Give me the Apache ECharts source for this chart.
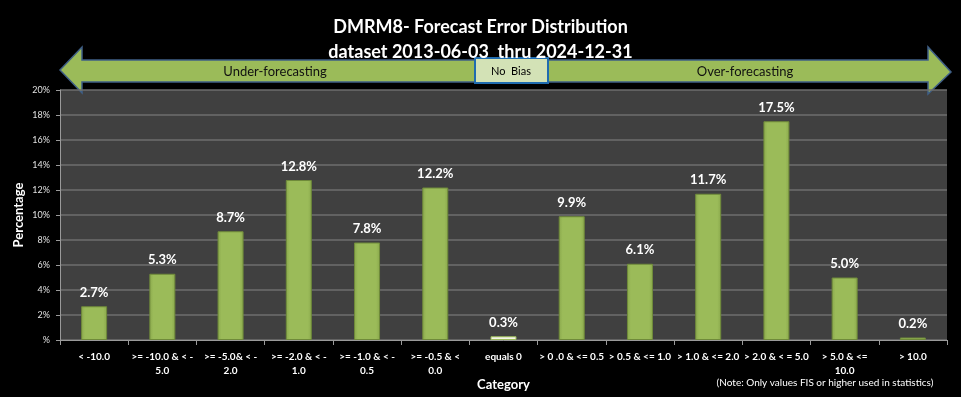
<!DOCTYPE html>
<html>
<head>
<meta charset="utf-8">
<script src="https://cdn.jsdelivr.net/npm/echarts@6/dist/echarts.min.js"></script>
<style>
  html, body { margin: 0; padding: 0; background: #000; }
</style>
</head>
<body>
<div id="myChart" style="width: 961px; height: 397px;"></div>
<script>
// categories and values (percent)
var categories = [
  "< -10.0", ">= -10.0 & < -\n5.0", ">= -5.0& < -\n2.0", ">= -2.0 & < -\n1.0",
  ">= -1.0 & < -\n0.5", ">= -0.5 & <\n0.0", "equals 0", "> 0 .0 & <= 0.5",
  "> 0.5 & <= 1.0", "> 1.0 & <= 2.0", "> 2.0 & < = 5.0", "> 5.0 & <=\n10.0", "> 10.0"
];
var percentages = [2.7, 5.3, 8.7, 12.8, 7.8, 12.2, 0.3, 9.9, 6.1, 11.7, 17.5, 5.0, 0.2];
var zeroIndex = 6;

var font = "Lato, 'Open Sans', sans-serif";

var myChart = echarts.init(document.getElementById("myChart"));

var barData = percentages.map(function (v, i) {
  if (i === zeroIndex) {
    return { value: v, itemStyle: { color: "#f4f4e8", borderColor: "#9bbb59" } };
  }
  return v;
});

myChart.setOption({
  backgroundColor: "#000",
  animation: false,
  title: {
    text: "DMRM8- Forecast Error Distribution\ndataset 2013-06-03  thru 2024-12-31",
    left: "center",
    top: 10,
    textStyle: { color: "#fff", fontSize: 18, fontWeight: "bold", fontFamily: font, lineHeight: 25 }
  },
  grid: {
    left: 60, right: 14, top: 90, bottom: 57,
    outerBoundsMode: "none",
    show: true, backgroundColor: "#404040", borderWidth: 0
  },
  xAxis: {
    type: "category",
    data: categories,
    name: "Category",
    nameLocation: "middle",
    nameGap: 38,
    nameMoveOverlap: false,
    nameTextStyle: { color: "#fff", fontSize: 13, fontWeight: "bold", fontFamily: font },
    axisLine: { lineStyle: { color: "#9a9a9a" } },
    axisTick: { show: true, length: 5, lineStyle: { color: "#9a9a9a" } },
    axisLabel: {
      color: "#fff", fontSize: 10, fontWeight: "bold", fontFamily: font,
      interval: 0, lineHeight: 14, margin: 10
    }
  },
  yAxis: {
    type: "value",
    min: 0, max: 20, interval: 2,
    name: "Percentage",
    nameLocation: "middle",
    nameGap: 35,
    nameMoveOverlap: false,
    nameTextStyle: { color: "#fff", fontSize: 13, fontWeight: "bold", fontFamily: font },
    axisLine: { show: true, lineStyle: { color: "#9a9a9a" } },
    axisTick: { show: true, length: 4, lineStyle: { color: "#9a9a9a" } },
    splitLine: { lineStyle: { color: "#6e6e6e", width: 1.5 } },
    axisLabel: {
      color: "#e0e0e0", fontSize: 9, fontFamily: font, margin: 10,
      formatter: function (v) { return v === 0 ? "%" : v + "%"; }
    }
  },
  series: [{
    type: "bar",
    data: barData,
    barWidth: 26,
    itemStyle: {
      color: {
        type: "linear", x: 0, y: 0, x2: 1, y2: 0,
        colorStops: [
          { offset: 0, color: "#8aa84c" },
          { offset: 0.15, color: "#9bbb59" },
          { offset: 0.85, color: "#9bbb59" },
          { offset: 1, color: "#8aa84c" }
        ]
      },
      borderColor: "#6f8a3a",
      borderWidth: 1
    },
    label: {
      show: true,
      position: "top",
      distance: 7,
      color: "#fff",
      fontSize: 13,
      fontWeight: "bold",
      fontFamily: font,
      formatter: function (p) { return p.value.toFixed(1) + "%"; }
    }
  }],
  graphic: [
    {
      type: "polygon",
      shape: {
        points: [[60, 70], [82, 47], [82, 60], [928, 60], [928, 47], [951, 72],
                 [928, 94], [928, 82], [82, 82], [82, 93]]
      },
      style: { fill: "#9bbb59", stroke: "#3f5f86", lineWidth: 1.5 }
    },
    {
      type: "rect",
      shape: { x: 475, y: 58, width: 73, height: 25 },
      style: { fill: "#d3e2b6", stroke: "#1f6cb0", lineWidth: 2 }
    },
    {
      type: "text", x: 511, y: 71,
      style: { text: "No  Bias", fill: "#000", fontSize: 11, fontFamily: font, align: "center", verticalAlign: "middle" }
    },
    {
      type: "text", x: 275, y: 72,
      style: { text: "Under-forecasting", fill: "#111", fontSize: 13, fontFamily: font, align: "center", verticalAlign: "middle" }
    },
    {
      type: "text", x: 745, y: 72,
      style: { text: "Over-forecasting", fill: "#111", fontSize: 13, fontFamily: font, align: "center", verticalAlign: "middle" }
    },
    {
      type: "text", x: 825, y: 383,
      style: { text: "(Note: Only values FIS or higher used in statistics)", fill: "#fff", fontSize: 10, fontFamily: font, align: "center", verticalAlign: "middle" }
    }
  ]
});
</script>
</body>
</html>
